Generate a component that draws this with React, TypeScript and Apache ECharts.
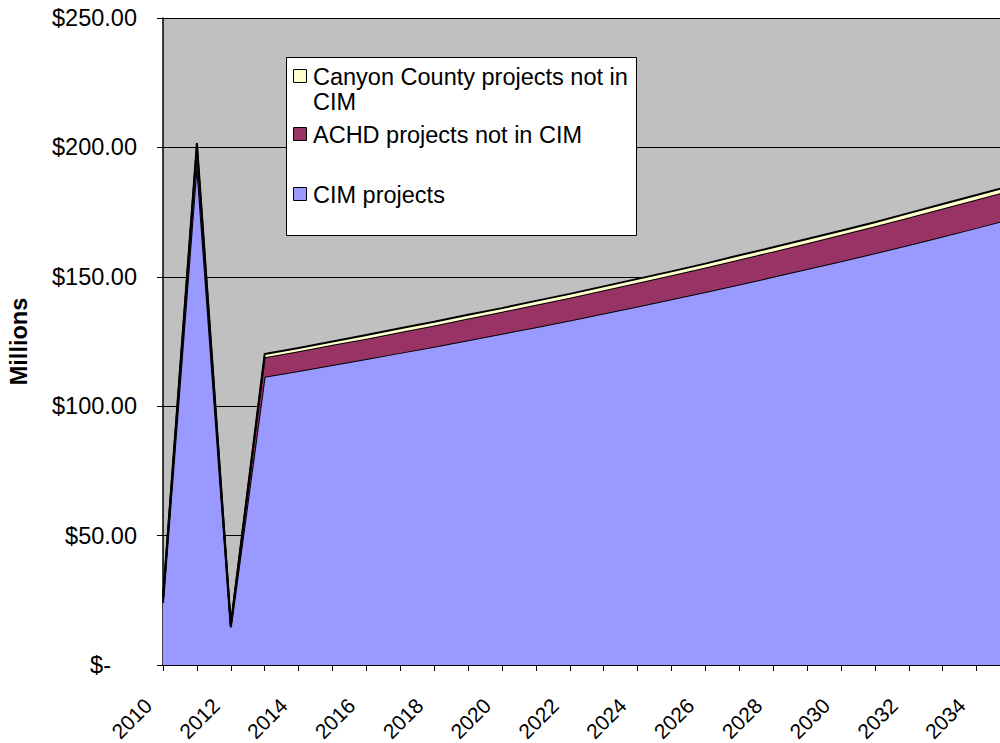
import React, { useEffect, useRef } from "react";
import * as echarts from "echarts";

const years = [
  "2010", "2011", "2012", "2013", "2014", "2015", "2016", "2017", "2018",
  "2019", "2020", "2021", "2022", "2023", "2024", "2025", "2026", "2027",
  "2028", "2029", "2030", "2031", "2032", "2033", "2034", "2035",
];

const cimProjects = [
  24, 194, 14.5, 111.4, 113.6, 115.9, 118.2, 120.6, 123.0, 125.5, 128.0,
  130.5, 133.1, 135.8, 138.5, 141.3, 144.1, 147.0, 150.0, 153.0, 156.0,
  159.1, 162.3, 165.6, 168.9, 172.3,
];

const achdProjects = [
  1.5, 6, 0.7, 7.5, 7.6, 7.8, 7.9, 8.1, 8.2, 8.4, 8.5, 8.7, 8.8, 9.0, 9.2,
  9.3, 9.5, 9.7, 9.8, 10.0, 10.2, 10.4, 10.6, 10.8, 11.0, 11.1,
];

const canyonProjects = [
  0.5, 1.7, 0.3, 1.3, 1.3, 1.3, 1.4, 1.4, 1.4, 1.4, 1.4, 1.5, 1.5, 1.5, 1.5,
  1.5, 1.5, 1.6, 1.6, 1.6, 1.6, 1.6, 1.7, 1.7, 1.7, 1.7,
];

const seriesNames = [
  "CIM projects",
  "ACHD projects not in CIM",
  "Canyon County projects not in CIM",
];
const seriesColors = ["#9999FF", "#993366", "#FFFFCC"];

const FONT = "'Liberation Sans', Arial, sans-serif";
const FS = 23.5;
const XFS = 21;

export default function App() {
  const ref = useRef<HTMLDivElement>(null);

  useEffect(() => {
    if (!ref.current) return;
    const chart = echarts.init(ref.current, undefined, { renderer: "svg" });
    const dataSets = [cimProjects, achdProjects, canyonProjects];

    const legendRows = [
      { idx: 2, y: 69, lines: ["Canyon County projects not in", "CIM"] },
      { idx: 1, y: 127, lines: ["ACHD projects not in CIM"] },
      { idx: 0, y: 187, lines: ["CIM projects"] },
    ];
    const legendGraphics: any[] = [
      {
        type: "rect",
        shape: { x: 286.5, y: 57.5, width: 350, height: 178 },
        style: { fill: "#FFFFFF", stroke: "#000000", lineWidth: 1 },
        z: 100,
      },
    ];
    legendRows.forEach((r) => {
      legendGraphics.push({
        type: "rect",
        shape: { x: 293.5, y: r.y + 0.5, width: 13, height: 13 },
        style: { fill: seriesColors[r.idx], stroke: "#000000", lineWidth: 1 },
        z: 101,
      });
      r.lines.forEach((ln, i) => {
        legendGraphics.push({
          type: "text",
          x: 313,
          y: r.y + 8 + i * 25,
          style: {
            text: ln,
            font: `${FS}px ${FONT}`,
            fill: "#000000",
            textVerticalAlign: "middle",
            verticalAlign: "middle",
          },
          z: 101,
        });
      });
    });

    chart.setOption({
      animation: false,
      backgroundColor: "#FFFFFF",
      grid: {
        left: 163,
        top: 18,
        bottom: 78,
        right: -10.5,
        show: true,
        backgroundColor: "#C0C0C0",
        borderWidth: 0,
        containLabel: false,
        outerBoundsMode: "none",
      },
      xAxis: {
        type: "category",
        data: years,
        boundaryGap: false,
        axisLine: { show: true, lineStyle: { color: "#000000", width: 1.5 } },
        axisTick: {
          show: true,
          interval: 0,
          length: 6,
          lineStyle: { color: "#000000", width: 1 },
        },
        axisLabel: {
          interval: 1,
          rotate: 45,
          margin: 22,
          formatter: (v: string) => "{a|" + v + "}",
          rich: {
            a: {
              fontSize: XFS,
              fontFamily: FONT,
              color: "#000000",
              padding: [0, 21, 0, 0],
            },
          },
          color: "#000000",
          fontSize: XFS,
          fontFamily: FONT,
          hideOverlap: false,
        },
        splitLine: { show: false },
      },
      yAxis: {
        type: "value",
        min: 0,
        max: 250,
        interval: 50,
        name: "Millions",
        nameLocation: "middle",
        nameRotate: 90,
        nameGap: 132,
        nameTextStyle: {
          fontSize: FS,
          fontWeight: "bold",
          fontFamily: FONT,
          color: "#000000",
        },
        axisLine: { show: true, lineStyle: { color: "#000000", width: 1.5 } },
        axisTick: {
          show: true,
          inside: false,
          length: 6,
          lineStyle: { color: "#000000", width: 1 },
        },
        axisLabel: {
          margin: 26,
          color: "#000000",
          fontSize: FS,
          fontFamily: FONT,
          formatter: (v: number) =>
            v === 0 ? "{z|$-}" : "$" + v.toFixed(2),
          rich: {
            z: {
              fontSize: FS,
              fontFamily: FONT,
              color: "#000000",
              padding: [0, 26, 0, 0],
            },
          },
        },
        splitLine: { show: true, lineStyle: { color: "#000000", width: 1 } },
      },
      series: dataSets.map((d, i) => ({
        name: seriesNames[i],
        type: "line",
        stack: "total",
        data: d,
        symbol: "none",
        showSymbol: false,
        smooth: false,
        lineStyle: { color: "#000000", width: 2 },
        areaStyle: { color: seriesColors[i], opacity: 1 },
        itemStyle: { color: seriesColors[i] },
        z: 2 + i,
      })),
      graphic: legendGraphics,
    });

    return () => chart.dispose();
  }, []);

  return (
    <div
      ref={ref}
      style={{
        position: "fixed",
        left: 0,
        top: 0,
        width: 1000,
        height: 743,
      }}
    />
  );
}
